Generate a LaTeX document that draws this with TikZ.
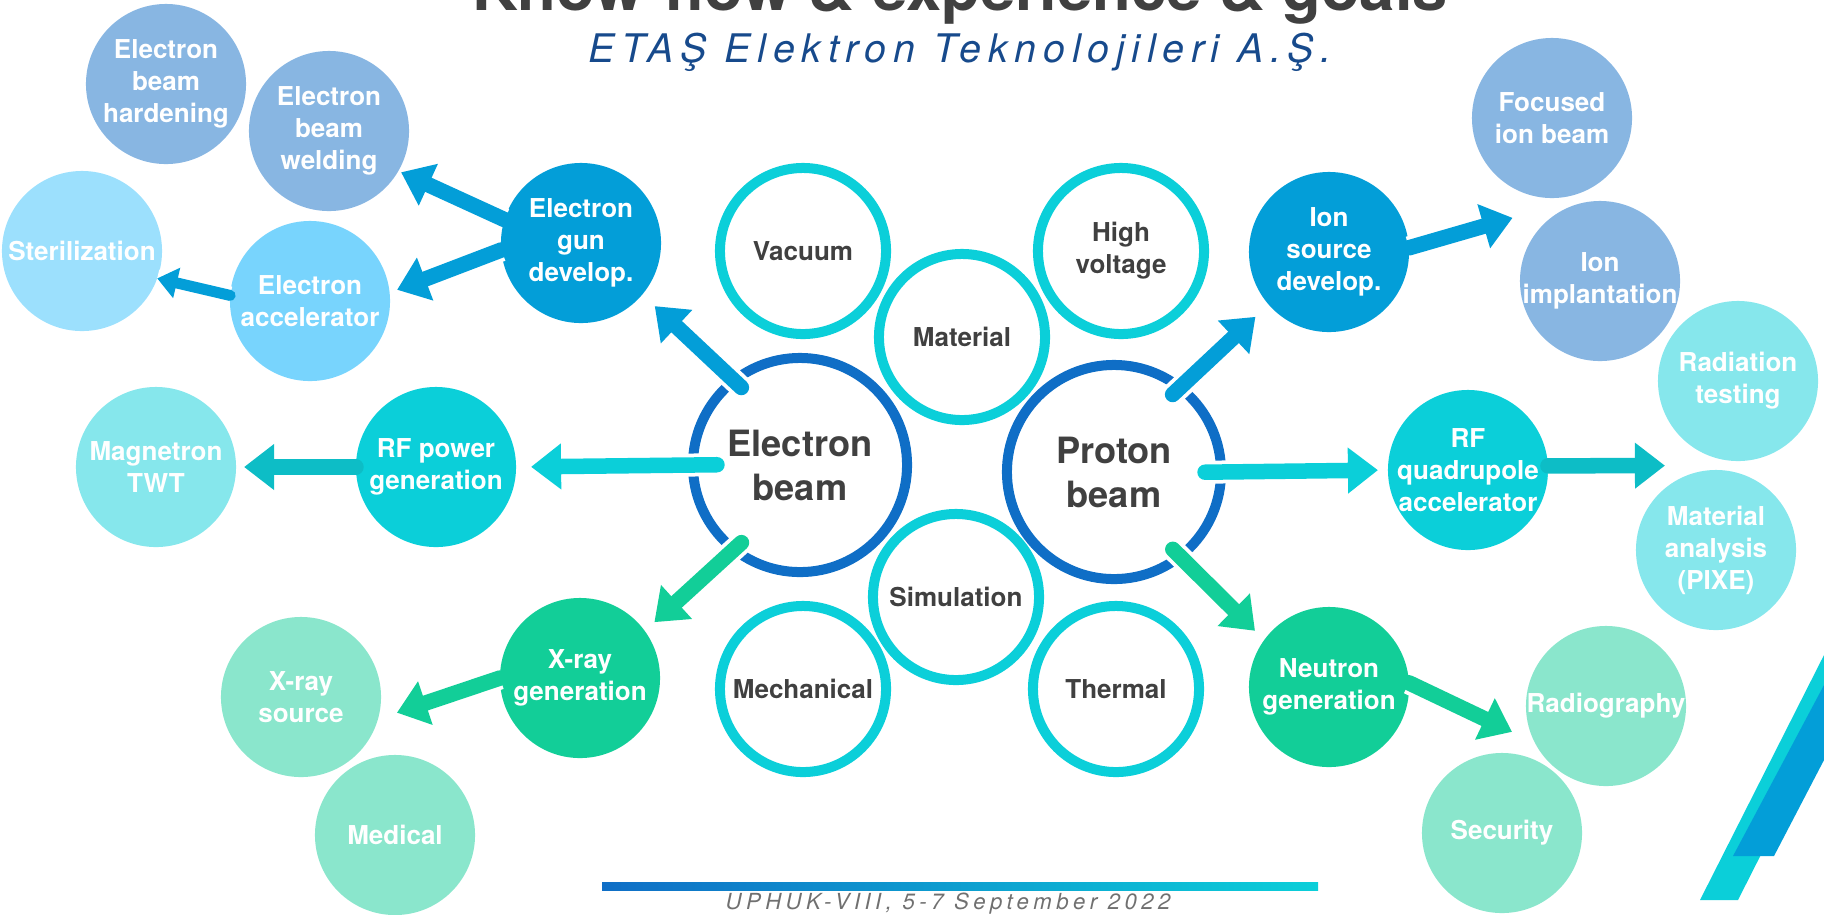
\documentclass[tikz,border=0pt]{standalone}
\usepackage{fontspec}
\setmainfont{TeX Gyre Heros}
\usetikzlibrary{arrows.meta,calc}
\definecolor{ringblue}{HTML}{0F6EC6}
\definecolor{ringcyan}{HTML}{0BCFD9}
\definecolor{gunblue}{HTML}{039ED8}
\definecolor{steelbl}{HTML}{88B6E2}
\definecolor{sterbl}{HTML}{9CE0FD}
\definecolor{accbl}{HTML}{78D4FD}
\definecolor{palecyan}{HTML}{86E7EC}
\definecolor{rfcyan}{HTML}{0DBDC6}
\definecolor{xgreen}{HTML}{12CE98}
\definecolor{palegreen}{HTML}{8AE6CC}
\definecolor{labelgray}{HTML}{404040}
\definecolor{subblue}{HTML}{174A8C}
\definecolor{footgray}{HTML}{707070}
\tikzset{
	corering/.style={circle,draw=ringblue,line width=0.1cm,minimum size=2.14cm,
		inner sep=0pt,outer sep=0pt,text=labelgray,align=center,
		font=\bfseries\fontsize{10.3}{12.5}\selectfont},
	skillring/.style={circle,draw=ringcyan,line width=0.1cm,minimum size=1.66cm,
		inner sep=0pt,outer sep=0pt,text=labelgray,align=center,
		font=\bfseries\fontsize{7.4}{9.1}\selectfont},
	appdot/.style={circle,fill=#1,minimum size=1.6cm,inner sep=-2pt,outer sep=0pt,
		text=white,align=center,font=\bfseries\fontsize{7.4}{9.1}\selectfont},
	ar/.style={draw=#1,line width=0.155cm,line cap=round,
		-{Triangle[length=0.3cm,width=0.44cm]},
		preaction={draw=white,line width=0.23cm,arrows=-}},
	arsmall/.style={draw=#1,line width=0.11cm,line cap=round,
		-{Triangle[length=0.2cm,width=0.3cm]},
		preaction={draw=white,line width=0.18cm,arrows=-}}
}
\begin{document}
\begin{tikzpicture}[x=0.01cm,y=-0.01cm]
	\useasboundingbox (0,0) rectangle (1824,914);
	% heading
	\node[anchor=base,text=labelgray,font=\bfseries\fontsize{18}{20}\selectfont] (title) at (960,10) {Know-how \& experience \& goals};
	\node[anchor=base,text=subblue,font=\itshape\fontsize{11.2}{13}\selectfont\addfontfeatures{LetterSpace=17}] (firm) at (960,62) {ETAŞ Elektron Teknolojileri A.Ş.};
	% core rings
	\node[corering] (eb) at (800,465) {Electron\\beam};
	\node[corering] (pb) at (1114,472) {Proton\\beam};
	% skill rings
	\node[skillring] (vac) at (803,251) {Vacuum};
	\node[skillring] (mat) at (962,337) {Material};
	\node[skillring] (hv) at (1121,251) {High\\voltage};
	\node[skillring] (sim) at (956,597) {Simulation};
	\node[skillring] (mech) at (803,689) {Mechanical};
	\node[skillring] (therm) at (1116,689) {Thermal};
	% electron side
	\node[appdot=gunblue] (gun) at (581,243) {Electron\\gun\\develop.};
	\node[appdot=steelbl] (hard) at (166,84) {Electron\\beam\\hardening};
	\node[appdot=steelbl] (weld) at (329,131) {Electron\\beam\\welding};
	\node[appdot=sterbl] (steril) at (82,251) {Sterilization};
	\node[appdot=accbl] (acc) at (310,301) {Electron\\accelerator};
	\node[appdot=ringcyan] (rfp) at (436,467) {RF power\\generation};
	\node[appdot=palecyan] (magn) at (156,467) {Magnetron\\TWT};
	\node[appdot=xgreen] (xgen) at (580,678) {X-ray\\generation};
	\node[appdot=palegreen] (xsrc) at (301,697) {X-ray\\source};
	\node[appdot=palegreen] (med) at (395,835) {Medical};
	% proton side
	\node[appdot=gunblue] (ion) at (1329,252) {Ion\\source\\develop.};
	\node[appdot=steelbl] (focus) at (1552,118) {Focused\\ion beam};
	\node[appdot=steelbl] (impl) at (1600,281) {Ion\\implantation};
	\node[appdot=ringcyan] (rfq) at (1468,470) {RF\\quadrupole\\accelerator};
	\node[appdot=palecyan] (radt) at (1738,381) {Radiation\\testing};
	\node[appdot=palecyan] (pixe) at (1716,550) {Material\\analysis\\(PIXE)};
	\node[appdot=xgreen] (neut) at (1329,687) {Neutron\\generation};
	\node[appdot=palegreen] (radio) at (1606,706) {Radiography};
	\node[appdot=palegreen] (secu) at (1502,833) {Security};
	% arrows
	\draw[ar=gunblue,shorten <=-0.1cm,shorten >=0.17cm] (eb.128) -- (gun.-40);
	\draw[ar=gunblue,shorten >=0.03cm] (gun.163) -- (weld.-30);
	\draw[ar=gunblue,shorten >=0.08cm] (gun.185) -- (acc.6);
	\draw[arsmall=gunblue] (acc.176) -- (steril.-20);
	\draw[ar=ringcyan,shorten <=-0.24cm,shorten >=0.15cm] (eb.180) -- (rfp.0);
	\draw[ar=rfcyan,shorten >=0.08cm] (rfp.180) -- (magn.0);
	\draw[ar=xgreen,shorten <=-0.1cm,shorten >=0.13cm] (eb.-128) -- (xgen.36);
	\draw[ar=xgreen,shorten >=0.2cm] (xgen.180) -- (xsrc.-16);
	\draw[ar=gunblue,shorten <=-0.1cm,shorten >=0.18cm] (pb.52) -- (ion.221);
	\draw[ar=gunblue,shorten >=0.66cm] (ion.3) -- ($(focus)!.5!(impl)$);
	\draw[ar=ringcyan,shorten <=-0.16cm,shorten >=0.1cm] (pb.0) -- (rfq.180);
	\draw[ar=rfcyan,shorten >=0.62cm] (rfq.3) -- ($(radt)!.5!(pixe)$);
	\draw[ar=xgreen,shorten <=-0.1cm,shorten >=0.13cm] (pb.-52) -- (neut.144);
	\draw[ar=xgreen,shorten >=0.58cm] (neut.3) -- ($(radio)!.4!(secu)$);
	% footer
	\shade[left color=ringblue,right color=ringcyan] (602,882) rectangle (1318,890);
	\node[anchor=base,text=footgray,font=\itshape\fontsize{6.3}{7}\selectfont\addfontfeatures{LetterSpace=20}] (conf) at (948,909) {UPHUK-VIII, 5-7 September 2022};
	% corner stripes
	\fill[ringcyan] (1700,900) -- (1738,900) -- (1824,730) -- (1824,655) -- cycle;
	\fill[gunblue] (1733,856) -- (1774,856) -- (1824,760) -- (1824,685) -- cycle;
\end{tikzpicture}
\end{document}
